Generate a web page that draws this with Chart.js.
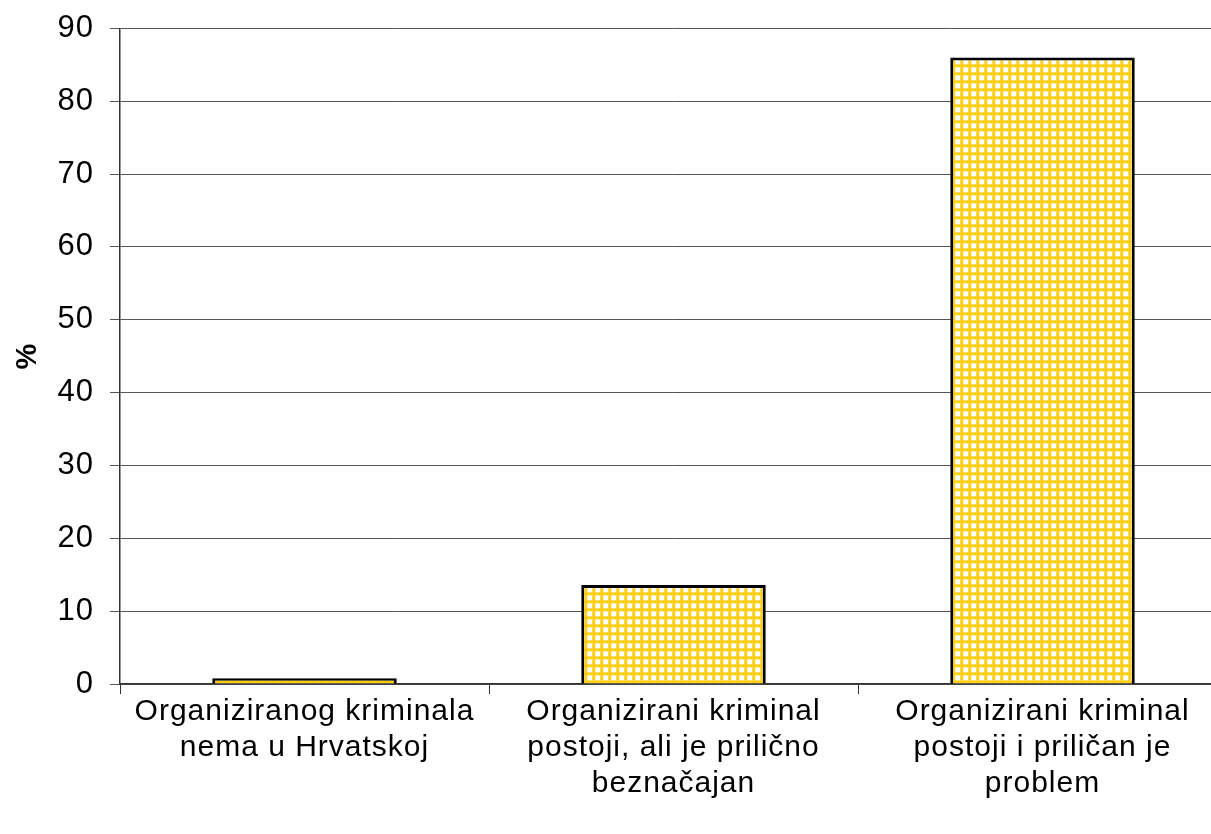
<!DOCTYPE html>
<html>
<head>
<meta charset="utf-8">
<script src="https://cdn.jsdelivr.net/npm/chart.js@4/dist/chart.umd.min.js"></script>
<style>
  html, body { margin: 0; padding: 0; background: #fff; overflow: hidden; }
  #wrap { position: absolute; left: 0; top: 0; width: 1240px; height: 834px; }
</style>
</head>
<body>
<div id="wrap"><canvas id="mychart"></canvas></div>
<script>
// categories and values
const categories = [
    ['Organiziranog kriminala', 'nema u Hrvatskoj'],
    ['Organizirani kriminal', 'postoji, ali je prilično', 'beznačajan'],
    ['Organizirani kriminal', 'postoji i priličan je', 'problem']
]
const percents = [0.8, 13.6, 86.0]
const yTicks = [0, 10, 20, 30, 40, 50, 60, 70, 80, 90]

// yellow grid fill like the original hatch
function gridPattern() {
    const c = document.createElement('canvas')
    c.width = 8
    c.height = 8
    const g = c.getContext('2d')
    g.fillStyle = '#ffffff'
    g.fillRect(0, 0, 8, 8)
    g.fillStyle = '#ffe680'
    g.fillRect(0, 0, 3.5, 8)
    g.fillRect(0, 0, 8, 3.5)
    g.fillStyle = '#ffcc00'
    g.fillRect(0.75, 0, 2, 8)
    g.fillRect(0, 0.75, 8, 2)
    return g.createPattern(c, 'repeat')
}

const family = 'Liberation Sans, Arial, sans-serif'

// the original text is drawn a bit wider than canvas Arial
const wideText = {
    id: 'wideText',
    beforeUpdate(chart) { chart.ctx.letterSpacing = '1px' },
    beforeDraw(chart) { chart.ctx.letterSpacing = '1px' }
}

var myChart = new Chart(document.getElementById('mychart'), {
    type: 'bar',
    data: {
        labels: categories,
        datasets: [{
            label: '%',
            data: percents,
            backgroundColor: gridPattern(),
            borderColor: '#000000',
            borderWidth: 3,
            categoryPercentage: 1,
            barPercentage: 0.5
        }]
    },
    plugins: [wideText],
    options: {
        responsive: true,
        maintainAspectRatio: false,
        animation: false,
        layout: { padding: { top: 25, right: 13, left: 0, bottom: 0 } },
        plugins: {
            legend: { display: false },
            tooltip: { enabled: false }
        },
        scales: {
            x: {
                grid: {
                    offset: true,
                    drawOnChartArea: false,
                    drawTicks: true,
                    tickLength: 10,
                    color: '#333'
                },
                border: { color: '#333', width: 1.5 },
                ticks: {
                    color: '#000',
                    font: { family: family, size: 30, lineHeight: 1.2 },
                    padding: 0,
                    maxRotation: 0,
                    autoSkip: false
                },
                afterFit: scale => { scale.height = 150 }
            },
            y: {
                min: 0,
                max: 90,
                afterBuildTicks: scale => { scale.ticks = yTicks.map(v => ({ value: v })) },
                grid: {
                    color: '#555',
                    lineWidth: 1,
                    tickLength: 10
                },
                border: { color: '#333', width: 1.5 },
                ticks: {
                    color: '#000',
                    font: { family: family, size: 31, lineHeight: 0.8 },
                    padding: 16
                },
                title: {
                    display: true,
                    text: '%',
                    color: '#000',
                    font: { family: family, size: 29, weight: 'bold' },
                    padding: { top: 11, bottom: 0 }
                },
                afterFit: scale => { scale.width = 120 }
            }
        }
    }
});
</script>
</body>
</html>
